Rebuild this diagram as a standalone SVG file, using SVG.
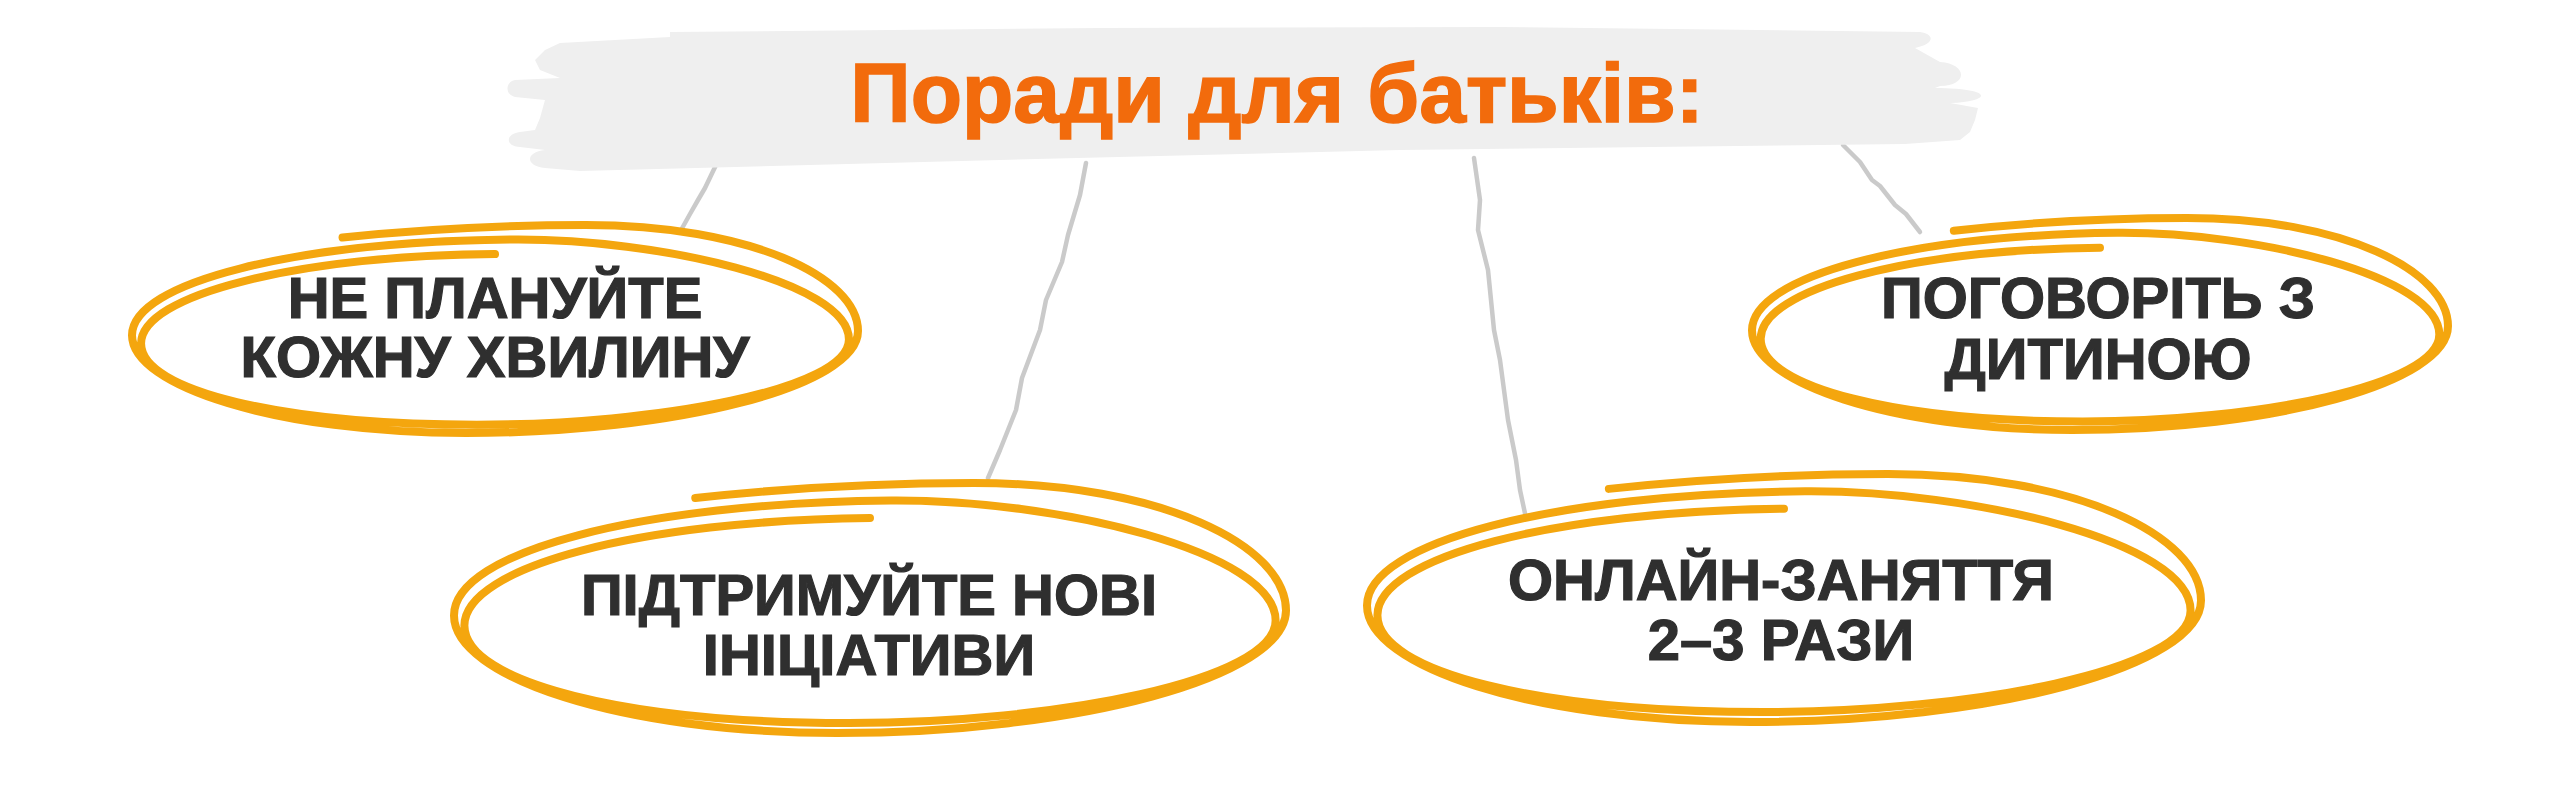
<svg xmlns="http://www.w3.org/2000/svg" xmlns:xlink="http://www.w3.org/1999/xlink" width="2560" height="799" viewBox="0 0 2560 799">
<style>
.bg{fill:#ffffff}
.band{fill:#efefef}
.title{font-family:"Liberation Sans",Arial,sans-serif;font-weight:700;font-size:84px;fill:#f26b0c;stroke:#f26b0c;stroke-width:1.5;text-anchor:middle}
.lbl{font-family:"Liberation Sans",Arial,sans-serif;font-weight:700;font-size:58px;fill:#2f2f2f;stroke:#2f2f2f;stroke-width:1.2;text-anchor:middle}
.scr{fill:none;stroke:#f4a60e;stroke-width:8;stroke-linecap:round;stroke-linejoin:round;vector-effect:non-scaling-stroke}
.con{fill:none;stroke:#cacaca;stroke-width:4.5;stroke-linecap:round;stroke-linejoin:round}
</style>
<defs>
<path id="scribble" class="scr" d="M -0.42 -0.88 C -0.2 -0.96 0.0 -1.0 0.25 -1.0 C 0.7 -1.0 1.0 -0.5 1.0 0.02 C 1.0 0.55 0.5 1.0 -0.08 1.0 C -0.6 1.0 -1.0 0.55 -1.0 0.06 C -1.0 -0.45 -0.55 -0.84 0.05 -0.86 C 0.45 -0.87 0.975 -0.45 0.975 0.1 C 0.975 0.58 0.45 0.92 -0.05 0.92 C -0.58 0.92 -0.975 0.6 -0.975 0.14 C -0.975 -0.33 -0.55 -0.7 0.0 -0.72"/>
</defs>
<rect class="bg" x="0" y="0" width="2560" height="799"/>
<g id="connectors">
<path class="con" d="M 716 165 L 705 188 L 698 200 L 690 214 L 680 232"/>
<path class="con" d="M 1086 163 L 1080 195 L 1068 235 L 1062 262 L 1046 300 L 1040 330 L 1022 378 L 1016 410 L 1000 450 L 988 478"/>
<path class="con" d="M 1474 158 L 1480 200 L 1478 230 L 1488 270 L 1494 330 L 1500 360 L 1508 420 L 1516 460 L 1520 490 L 1526 518"/>
<path class="con" d="M 1843 145 L 1860 162 L 1872 180 L 1880 186 L 1895 205 L 1906 214 L 1920 232"/>
</g>
<g id="title">
<path class="band" d="M 670 32 L 1100 28 L 1500 27 L 1920 32 C 1935 34 1935 44 1915 48 L 1940 62 C 1968 64 1968 86 1940 86 L 1935 88 C 1992 88 1995 101 1950 103 L 1978 108 L 1975 120 L 1970 132 L 1960 140 L 1905 144 L 1400 150 L 1000 160 L 580 171 L 545 168 C 525 166 525 152 545 150 L 520 147 C 505 146 505 134 520 132 L 535 130 L 540 118 L 545 100 L 515 97 C 505 95 505 82 515 80 L 560 78 L 540 70 L 535 60 L 545 50 L 560 43 L 670 37 Z"/>
<text class="title" x="1277" y="122">Поради для батьків:</text>
</g>
<g id="node1">
<use xlink:href="#scribble" transform="translate(495 329) scale(363 104)"/>
<text class="lbl" x="495" y="318">НЕ ПЛАНУЙТЕ</text>
<text class="lbl" x="495" y="377">КОЖНУ ХВИЛИНУ</text>
</g>
<g id="node2">
<use xlink:href="#scribble" transform="translate(870 608) scale(416 125)"/>
<text class="lbl" x="869" y="615">ПІДТРИМУЙТЕ НОВІ</text>
<text class="lbl" x="869" y="675">ІНІЦІАТИВИ</text>
</g>
<g id="node3">
<use xlink:href="#scribble" transform="translate(1784 598) scale(417 124)"/>
<text class="lbl" x="1781" y="600">ОНЛАЙН-ЗАНЯТТЯ</text>
<text class="lbl" x="1781" y="660">2–3 РАЗИ</text>
</g>
<g id="node4">
<use xlink:href="#scribble" transform="translate(2100 324) scale(348 106)"/>
<text class="lbl" x="2098" y="318">ПОГОВОРІТЬ З</text>
<text class="lbl" x="2098" y="379">ДИТИНОЮ</text>
</g>
</svg>
